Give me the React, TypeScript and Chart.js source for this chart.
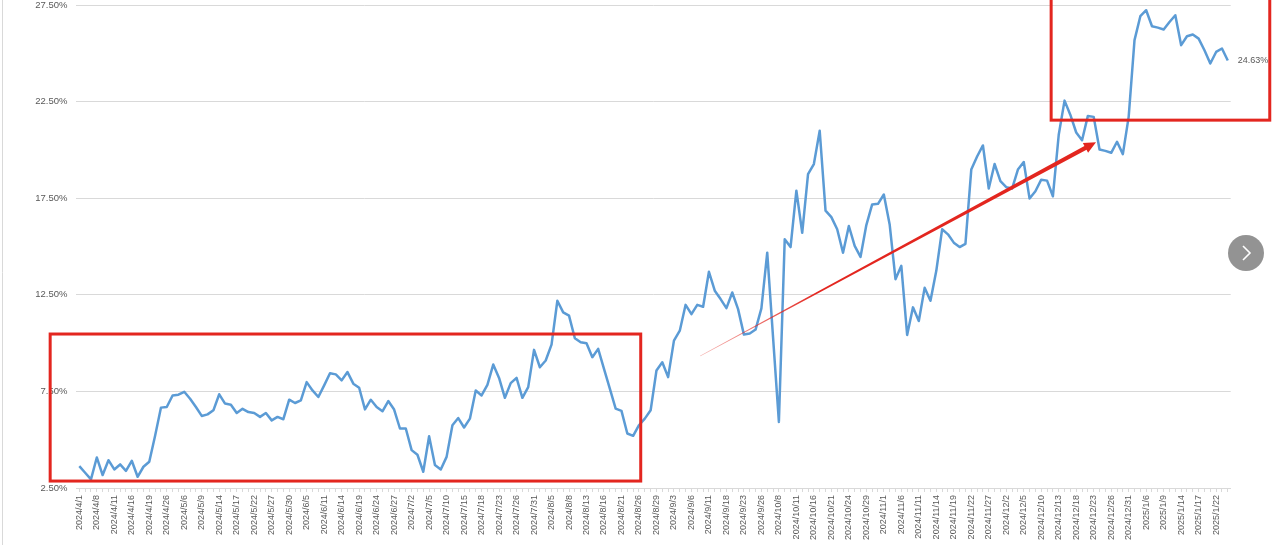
import React, { useEffect, useRef } from "react";
import { Chart, registerables } from "chart.js";

Chart.register(...registerables);

// trading days, one label shown every third day like the source sheet
const dates = [
  "2024/4/1", "2024/4/2", "2024/4/3", "2024/4/8", "2024/4/9", "2024/4/10", "2024/4/11", "2024/4/12", "2024/4/15", "2024/4/16",
  "2024/4/17", "2024/4/18", "2024/4/19", "2024/4/22", "2024/4/23", "2024/4/26", "2024/4/29", "2024/4/30", "2024/5/6", "2024/5/7",
  "2024/5/8", "2024/5/9", "2024/5/10", "2024/5/13", "2024/5/14", "2024/5/15", "2024/5/16", "2024/5/17", "2024/5/20", "2024/5/21",
  "2024/5/22", "2024/5/23", "2024/5/24", "2024/5/27", "2024/5/28", "2024/5/29", "2024/5/30", "2024/5/31", "2024/6/3", "2024/6/5",
  "2024/6/6", "2024/6/7", "2024/6/11", "2024/6/12", "2024/6/13", "2024/6/14", "2024/6/17", "2024/6/18", "2024/6/19", "2024/6/20",
  "2024/6/21", "2024/6/24", "2024/6/25", "2024/6/26", "2024/6/27", "2024/6/28", "2024/7/1", "2024/7/2", "2024/7/3", "2024/7/4",
  "2024/7/5", "2024/7/8", "2024/7/9", "2024/7/10", "2024/7/11", "2024/7/12", "2024/7/15", "2024/7/16", "2024/7/17", "2024/7/18",
  "2024/7/19", "2024/7/22", "2024/7/23", "2024/7/24", "2024/7/25", "2024/7/26", "2024/7/29", "2024/7/30", "2024/7/31", "2024/8/1",
  "2024/8/2", "2024/8/5", "2024/8/6", "2024/8/7", "2024/8/8", "2024/8/9", "2024/8/12", "2024/8/13", "2024/8/14", "2024/8/15",
  "2024/8/16", "2024/8/19", "2024/8/20", "2024/8/21", "2024/8/22", "2024/8/23", "2024/8/26", "2024/8/27", "2024/8/28", "2024/8/29",
  "2024/8/30", "2024/9/2", "2024/9/3", "2024/9/4", "2024/9/5", "2024/9/6", "2024/9/9", "2024/9/10", "2024/9/11", "2024/9/12",
  "2024/9/13", "2024/9/18", "2024/9/19", "2024/9/20", "2024/9/23", "2024/9/24", "2024/9/25", "2024/9/26", "2024/9/27", "2024/9/30",
  "2024/10/8", "2024/10/9", "2024/10/10", "2024/10/11", "2024/10/14", "2024/10/15", "2024/10/16", "2024/10/17", "2024/10/18", "2024/10/21",
  "2024/10/22", "2024/10/23", "2024/10/24", "2024/10/25", "2024/10/28", "2024/10/29", "2024/10/30", "2024/10/31", "2024/11/1", "2024/11/4",
  "2024/11/5", "2024/11/6", "2024/11/7", "2024/11/8", "2024/11/11", "2024/11/12", "2024/11/13", "2024/11/14", "2024/11/15", "2024/11/18",
  "2024/11/19", "2024/11/20", "2024/11/21", "2024/11/22", "2024/11/25", "2024/11/26", "2024/11/27", "2024/11/28", "2024/11/29", "2024/12/2",
  "2024/12/3", "2024/12/4", "2024/12/5", "2024/12/6", "2024/12/9", "2024/12/10", "2024/12/11", "2024/12/12", "2024/12/13", "2024/12/16",
  "2024/12/17", "2024/12/18", "2024/12/19", "2024/12/20", "2024/12/23", "2024/12/24", "2024/12/25", "2024/12/26", "2024/12/27", "2024/12/30",
  "2024/12/31", "2025/1/2", "2025/1/3", "2025/1/6", "2025/1/7", "2025/1/8", "2025/1/9", "2025/1/10", "2025/1/13", "2025/1/14",
  "2025/1/15", "2025/1/16", "2025/1/17", "2025/1/20", "2025/1/21", "2025/1/22", "2025/1/23", "2025/1/24",
];

// percent values
const spread = [
  3.63, 3.29, 2.95, 4.08, 3.17, 3.94, 3.46, 3.72, 3.39, 3.91,
  3.08, 3.6, 3.86, 5.2, 6.66, 6.69, 7.29, 7.33, 7.48, 7.12,
  6.69, 6.23, 6.31, 6.52, 7.35, 6.87, 6.81, 6.38, 6.6, 6.43,
  6.38, 6.18, 6.38, 6.0, 6.18, 6.06, 7.07, 6.9, 7.04, 7.98,
  7.55, 7.21, 7.81, 8.44, 8.38, 8.07, 8.5, 7.9, 7.69, 6.57,
  7.07, 6.69, 6.47, 7.0, 6.56, 5.58, 5.58, 4.46, 4.22, 3.34,
  5.18, 3.69, 3.46, 4.11, 5.75, 6.12, 5.63, 6.09, 7.55, 7.29,
  7.84, 8.89, 8.2, 7.17, 7.93, 8.2, 7.17, 7.72, 9.65, 8.75,
  9.1, 9.92, 12.19, 11.59, 11.42, 10.25, 10.04, 9.99, 9.27, 9.7,
  8.67, 7.64, 6.61, 6.49, 5.32, 5.2, 5.75, 6.09, 6.52, 8.58,
  9.01, 8.24, 10.13, 10.64, 11.98, 11.5, 11.98, 11.88, 13.69, 12.71,
  12.28, 11.81, 12.62, 11.76, 10.44, 10.5, 10.7, 11.8, 14.68, 10.3,
  5.92, 15.37, 14.97, 17.89, 15.71, 18.75, 19.27, 20.99, 16.86, 16.52,
  15.89, 14.68, 16.06, 15.03, 14.46, 16.11, 17.18, 17.21, 17.69, 16.14,
  13.31, 14.0, 10.42, 11.85, 11.14, 12.86, 12.19, 13.74, 15.89, 15.63,
  15.2, 14.97, 15.14, 18.98, 19.66, 20.23, 18.0, 19.27, 18.38, 18.07,
  18.0, 18.98, 19.37, 17.48, 17.86, 18.46, 18.41, 17.6, 20.78, 22.55,
  21.81, 20.9, 20.5, 21.76, 21.71, 20.02, 19.95, 19.85, 20.42, 19.78,
  21.71, 25.68, 26.92, 27.23, 26.4, 26.33, 26.23, 26.62, 26.97, 25.42,
  25.88, 25.97, 25.76, 25.16, 24.47, 25.07, 25.25, 24.63,
];

const yTicks = [2.5, 7.5, 12.5, 17.5, 22.5, 27.5];
const LABEL_STEP = 3;

// red marker boxes and the trend arrow, in (category index, percent)
const boxes = [
  { from: -5, to: 96.3, low: 2.86, high: 10.47 },
  { from: 166.7, to: 204.2, low: 21.54, high: 27.95 },
];
const arrowFrom = [106.5, 9.33];
const arrowTo = [174.4, 20.4];

const RED = "#e3261f";
const GREY_TEXT = "#595959";
const GRID = "#d9d9d9";

const fmt = (v: number) => v.toFixed(2) + "%";

const marks = {
  id: "marks",
  beforeDraw(chart: any) {
    const ctx = chart.ctx;
    ctx.save();
    ctx.strokeStyle = GRID;
    ctx.lineWidth = 1;
    ctx.beginPath();
    ctx.moveTo(2.5, 0);
    ctx.lineTo(2.5, chart.height);
    ctx.stroke();
    ctx.restore();
  },
  afterDatasetsDraw(chart: any) {
    const { ctx, scales } = chart;
    const xs = scales.x;
    const ys = scales.y;

    // end-of-line value label
    const pts = chart.getDatasetMeta(0).data;
    const last = pts[pts.length - 1];
    ctx.save();
    ctx.fillStyle = GREY_TEXT;
    ctx.font = "9px 'Liberation Sans', Arial, sans-serif";
    ctx.textAlign = "left";
    ctx.textBaseline = "middle";
    ctx.fillText(fmt(spread[spread.length - 1]), last.x + 10, last.y);

    // boxes
    ctx.strokeStyle = RED;
    ctx.lineWidth = 3;
    boxes.forEach((b) => {
      const x0 = xs.getPixelForValue(b.from);
      const x1 = xs.getPixelForValue(b.to);
      const y0 = ys.getPixelForValue(b.high);
      const y1 = ys.getPixelForValue(b.low);
      ctx.strokeRect(x0, y0, x1 - x0, y1 - y0);
    });

    // tapering arrow
    const ax = xs.getPixelForValue(arrowFrom[0]);
    const ay = ys.getPixelForValue(arrowFrom[1]);
    const bx = xs.getPixelForValue(arrowTo[0]);
    const by = ys.getPixelForValue(arrowTo[1]);
    const len = Math.hypot(bx - ax, by - ay);
    ctx.translate(ax, ay);
    ctx.rotate(Math.atan2(by - ay, bx - ax));
    const grad = ctx.createLinearGradient(0, 0, len, 0);
    grad.addColorStop(0, "rgba(227,38,31,0.35)");
    grad.addColorStop(0.3, RED);
    grad.addColorStop(1, RED);
    ctx.fillStyle = grad;
    const head = 12;
    ctx.beginPath();
    ctx.moveTo(0, -0.3);
    ctx.lineTo(len - head, -2.2);
    ctx.lineTo(len - head, -5.5);
    ctx.lineTo(len, 0);
    ctx.lineTo(len - head, 5.5);
    ctx.lineTo(len - head, 2.2);
    ctx.lineTo(0, 0.3);
    ctx.closePath();
    ctx.fill();
    ctx.restore();
  },
};

export default function App() {
  const ref = useRef<HTMLCanvasElement>(null);

  useEffect(() => {
    const ctx = ref.current?.getContext("2d");
    if (!ctx) return;

    const chart = new Chart(ctx, {
      type: "line",
      data: {
        labels: dates,
        datasets: [
          {
            data: spread,
            borderColor: "#5b9bd5",
            borderWidth: 2.5,
            pointRadius: 0,
            borderJoinStyle: "round",
            tension: 0,
            fill: false,
          },
        ],
      },
      options: {
        responsive: false,
        animation: false,
        layout: { padding: { top: 5, right: 49.3, bottom: 0, left: 0 } },
        plugins: { legend: { display: false }, tooltip: { enabled: false } },
        scales: {
          x: {
            offset: true,
            grid: { display: true, drawOnChartArea: false, color: GRID, tickLength: 4 },
            border: { display: true, color: GRID },
            ticks: {
              autoSkip: false,
              minRotation: 90,
              maxRotation: 90,
              padding: 3,
              color: GREY_TEXT,
              font: { size: 9, family: "'Liberation Sans', Arial, sans-serif" },
              callback: (_v: any, i: number) => (i % LABEL_STEP === 0 ? dates[i] : ""),
            },
            afterFit: (s: any) => {
              s.height = 57;
              s.paddingLeft = 0;
              s.paddingRight = 0;
            },
          },
          y: {
            min: 2.5,
            max: 27.5,
            grid: { color: GRID, drawTicks: false },
            border: { display: false },
            ticks: {
              padding: 9,
              color: GREY_TEXT,
              font: { size: 9.5, family: "'Liberation Sans', Arial, sans-serif" },
              callback: (v: any) => fmt(Number(v)),
            },
            afterBuildTicks: (s: any) => {
              s.ticks = yTicks.map((value) => ({ value }));
            },
            afterFit: (s: any) => {
              s.width = 76.4;
              s.paddingTop = 0;
              s.paddingBottom = 0;
            },
          },
        },
      },
      plugins: [marks],
    });

    return () => chart.destroy();
  }, []);

  return (
    <div style={{ position: "fixed", left: 0, top: 0, width: 1280, height: 545, background: "#fff" }}>
      <canvas ref={ref} width={1280} height={545} style={{ display: "block" }} />
      <div
        style={{
          position: "absolute",
          left: 1228,
          top: 235,
          width: 36,
          height: 36,
          borderRadius: "50%",
          background: "rgba(120,120,120,0.8)",
        }}
      >
        <svg width="36" height="36" viewBox="0 0 36 36">
          <polyline points="15,11 22,18 15,25" fill="none" stroke="#fff" strokeWidth="1.6" />
        </svg>
      </div>
    </div>
  );
}
